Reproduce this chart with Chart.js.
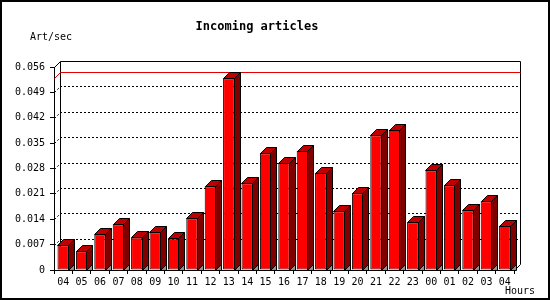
<!DOCTYPE html>
<html>
<head>
<meta charset="utf-8">
<script src="https://cdn.jsdelivr.net/npm/chart.js@4/dist/chart.umd.min.js"></script>
<style>
  body { margin: 0; background: #fff; }
  canvas { display: block; }
</style>
</head>
<body>
<canvas id="chart" width="550" height="300"></canvas>
<script>
// hours of the day, starting at 04 and wrapping round to 04 again
const hours = ['04', '05', '06', '07', '08', '09', '10', '11', '12', '13', '14', '15', '16',
  '17', '18', '19', '20', '21', '22', '23', '00', '01', '02', '03', '04'];
// incoming articles per second
const artPerSec = [0.0068, 0.0052, 0.0098, 0.0126, 0.0090, 0.0104, 0.0087, 0.0143, 0.0231,
  0.0529, 0.0239, 0.0322, 0.0296, 0.0329, 0.0268, 0.0162, 0.0212, 0.0372, 0.0386, 0.0132,
  0.0275, 0.0234, 0.0165, 0.0190, 0.0122];
const yMin = 0;
const yMax = 0.056;
const yStep = 0.007;

const DEPTH = 6;
const FONT = 'DejaVu Sans Mono';

// back wall, dotted grid and the max line, drawn behind the bars
const backWall = {
  id: 'backWall',
  beforeDatasetsDraw(chart) {
    const { ctx, chartArea, scales } = chart;
    const l = Math.round(chartArea.left) + 0.5;
    const r = Math.round(chartArea.right) + 0.5;
    const t = Math.round(chartArea.top) + 0.5;
    const b = Math.round(chartArea.bottom) + 0.5;
    ctx.save();
    ctx.lineWidth = 1;
    ctx.strokeStyle = '#000';
    // dotted gridlines on the back wall
    ctx.setLineDash([2, 2]);
    scales.y.ticks.forEach(tk => {
      if (tk.value <= yMin || tk.value >= yMax) return;
      const py = Math.round(scales.y.getPixelForValue(tk.value)) + 0.5;
      ctx.beginPath();
      ctx.moveTo(l, py);
      ctx.lineTo(l + DEPTH, py - DEPTH);
      ctx.lineTo(r + DEPTH, py - DEPTH);
      ctx.stroke();
    });
    ctx.setLineDash([]);
    // wall outline
    ctx.beginPath();
    ctx.moveTo(l, t);
    ctx.lineTo(l + DEPTH, t - DEPTH);
    ctx.lineTo(r + DEPTH, t - DEPTH);
    ctx.lineTo(r + DEPTH, b - DEPTH);
    ctx.lineTo(r, b);
    ctx.moveTo(l + DEPTH, t - DEPTH);
    ctx.lineTo(l + DEPTH, b - DEPTH);
    ctx.stroke();
    // red line at the maximum
    const peak = Math.max(...artPerSec);
    const my = Math.round(scales.y.getPixelForValue(peak)) + 0.5;
    ctx.strokeStyle = '#e00000';
    ctx.beginPath();
    ctx.moveTo(l, my);
    ctx.lineTo(l + DEPTH, my - DEPTH);
    ctx.lineTo(r + DEPTH, my - DEPTH);
    ctx.stroke();
    ctx.restore();
  }
};

// top and side faces of each bar plus the little floor shadow
const bars3d = {
  id: 'bars3d',
  afterDatasetsDraw(chart) {
    const { ctx } = chart;
    const meta = chart.getDatasetMeta(0);
    ctx.save();
    ctx.lineWidth = 1;
    ctx.strokeStyle = '#000';
    meta.data.forEach(bar => {
      const p = bar.getProps(['x', 'y', 'base', 'width'], true);
      const left = Math.round(p.x - p.width / 2) + 0.5;
      const right = Math.round(p.x + p.width / 2) - 0.5;
      const top = Math.round(p.y) + 0.5;
      const base = Math.round(p.base) + 0.5;
      const d = DEPTH;
      const poly = (pts, fill) => {
        ctx.beginPath();
        ctx.moveTo(pts[0][0], pts[0][1]);
        for (let i = 1; i < pts.length; i++) ctx.lineTo(pts[i][0], pts[i][1]);
        ctx.closePath();
        ctx.fillStyle = fill;
        ctx.fill();
        ctx.stroke();
      };
      poly([[right, base], [right + d, base - d], [right + d, base]], '#909090');
      poly([[left, top], [left + d, top - d], [right + d, top - d], [right, top]], '#c00000');
      poly([[right, top], [right + d, top - d], [right + d, base - d], [right, base]], '#800000');
    });
    ctx.restore();
  }
};

// outer frame and the two axis captions
const frameAndCaptions = {
  id: 'frameAndCaptions',
  afterDraw(chart) {
    const { ctx, chartArea } = chart;
    ctx.save();
    ctx.strokeStyle = '#000';
    ctx.lineWidth = 2;
    ctx.strokeRect(1, 1, chart.width - 2, chart.height - 2);
    ctx.fillStyle = '#000';
    ctx.font = '10px "' + FONT + '"';
    ctx.textBaseline = 'middle';
    ctx.textAlign = 'left';
    ctx.fillText('Art/sec', 30, 37);
    ctx.textAlign = 'right';
    ctx.fillText('Hours', chartArea.right + 21, 291);
    ctx.restore();
  }
};

Chart.defaults.color = '#000';
Chart.defaults.font.family = FONT;
Chart.defaults.font.size = 10;

const ctx = document.getElementById('chart').getContext('2d');
const chart = new Chart(ctx, {
  type: 'bar',
  data: {
    labels: hours,
    datasets: [{
      label: 'Incoming articles',
      data: artPerSec,
      backgroundColor: '#ff0000',
      borderColor: '#000',
      borderWidth: 1,
      borderSkipped: false,
      barPercentage: 0.62,
      categoryPercentage: 1.0,
    }],
  },
  options: {
    responsive: false,
    animation: false,
    devicePixelRatio: 1,
    layout: { padding: { left: 0, right: 36, top: 0, bottom: 0 } },
    plugins: {
      legend: { display: false },
      tooltip: { enabled: false },
      title: {
        display: true,
        text: 'Incoming articles',
        color: '#000',
        font: { family: FONT, size: 12, weight: 'bold' },
        padding: { top: 20, bottom: 32.6 },
      },
    },
    scales: {
      x: {
        grid: { offset: true, drawOnChartArea: false, tickLength: 4, color: '#000' },
        border: { display: true, color: '#000' },
        ticks: { padding: 2, maxRotation: 0, autoSkip: false },
        afterFit(scale) { scale.height = 30; },
      },
      y: {
        min: yMin,
        max: yMax,
        grid: { drawOnChartArea: false, tickLength: 4, color: '#000' },
        border: { display: true, color: '#000' },
        ticks: {
          stepSize: yStep,
          padding: 5,
          callback: function (value) {
            return value === 0 ? '0' : value.toFixed(3);
          },
        },
        afterFit(scale) { scale.width = 54; },
      },
    },
  },
  plugins: [backWall, bars3d, frameAndCaptions],
});
</script>
</body>
</html>
